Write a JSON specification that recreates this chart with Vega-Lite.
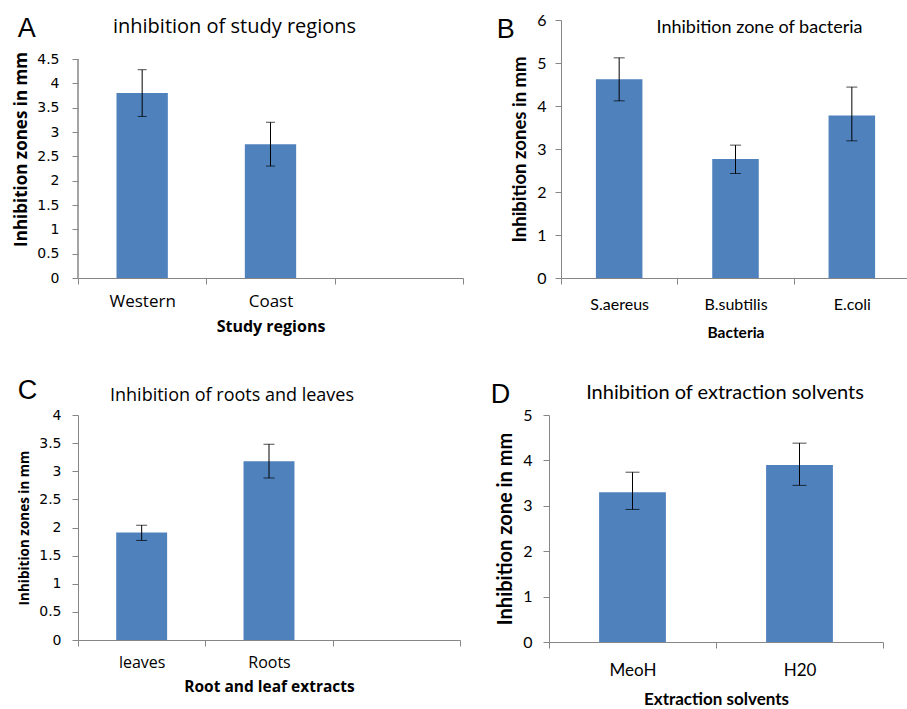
{
  "$schema": "https://vega.github.io/schema/vega-lite/v6.json",
  "padding": {"left": 12, "top": 12, "right": 0, "bottom": 0},
  "config": {
    "view": {"stroke": null},
    "axis": {"grid": false, "domainColor": "#868686", "tickColor": "#868686", "labelColor": "#000", "titleColor": "#000", "tickSize": 6, "labelOverlap": false},
    "title": {"color": "#000"}
  },
  "spacing": 36,
  "vconcat": [
    {
      "spacing": 32,
      "hconcat": [
        {
          "title": {"text": "A", "anchor": "start", "font": "Liberation Sans", "fontSize": 27, "fontWeight": "normal", "offset": -26, "dx": 5},
          "vconcat": [
            {
              "width": 385, "height": 258,
              "title": {"text": "inhibition of study regions", "font": "Open Sans", "fontSize": 20, "fontWeight": "normal", "offset": -17, "dx": -36},
              "data": {"values": [
                {"cat": "Western", "mean": 3.8, "lo": 3.32, "hi": 4.28},
                {"cat": "Coast", "mean": 2.75, "lo": 2.3, "hi": 3.2}
              ]},
              "encoding": {
                "x": {"field": "cat", "type": "nominal", "title": "Study regions",
                  "scale": {"domain": ["Western", "Coast", ""], "paddingInner": 0, "paddingOuter": 0},
                  "axis": {"labelAngle": 0, "tickBand": "extent", "labelFont": "Open Sans", "labelFontSize": 17, "labelPadding": 9, "titleFont": "Open Sans", "titleFontSize": 16, "titleFontWeight": "bold", "titlePadding": 9}}
              },
              "layer": [
                {"mark": {"type": "bar", "width": {"band": 0.4}, "color": "#4f81bd"},
                 "encoding": {"y": {"field": "mean", "type": "quantitative", "title": "Inhibition zones in mm",
                   "scale": {"domain": [0, 5.3014], "nice": false},
                   "axis": {"values": [0, 0.5, 1, 1.5, 2, 2.5, 3, 3.5, 4, 4.5], "format": "~g", "domain": false, "labelOverlap": false, "labelFont": "DejaVu Sans", "labelFontSize": 14, "labelPadding": 13, "titleFont": "Open Sans", "titleFontSize": 17, "titleFontWeight": "bold", "titlePadding": 6}}}},
                {"mark": {"type": "rule", "color": "#868686", "strokeWidth": 1},
                 "encoding": {"x": {"datum": "Western", "type": "nominal", "bandPosition": 0, "title": "Study regions"},
                   "y": {"datum": 0, "type": "quantitative", "title": "Inhibition zones in mm",
                   "axis": {"values": [0, 0.5, 1, 1.5, 2, 2.5, 3, 3.5, 4, 4.5], "format": "~g", "domain": false, "labelOverlap": false, "labelFont": "DejaVu Sans", "labelFontSize": 14, "labelPadding": 13, "titleFont": "Open Sans", "titleFontSize": 17, "titleFontWeight": "bold", "titlePadding": 6}},
                   "y2": {"datum": 4.5}}},
                {"mark": {"type": "rule", "color": "#000", "strokeWidth": 1},
                 "encoding": {"y": {"field": "lo", "type": "quantitative", "title": "Inhibition zones in mm",
                   "axis": {"values": [0, 0.5, 1, 1.5, 2, 2.5, 3, 3.5, 4, 4.5], "format": "~g", "domain": false, "labelOverlap": false, "labelFont": "DejaVu Sans", "labelFontSize": 14, "labelPadding": 13, "titleFont": "Open Sans", "titleFontSize": 17, "titleFontWeight": "bold", "titlePadding": 6}}, "y2": {"field": "hi"}}},
                {"mark": {"type": "tick", "color": "#000", "size": 9, "thickness": 1},
                 "encoding": {"y": {"field": "lo", "type": "quantitative", "title": "Inhibition zones in mm",
                   "axis": {"values": [0, 0.5, 1, 1.5, 2, 2.5, 3, 3.5, 4, 4.5], "format": "~g", "domain": false, "labelOverlap": false, "labelFont": "DejaVu Sans", "labelFontSize": 14, "labelPadding": 13, "titleFont": "Open Sans", "titleFontSize": 17, "titleFontWeight": "bold", "titlePadding": 6}}}},
                {"mark": {"type": "tick", "color": "#000", "size": 9, "thickness": 1},
                 "encoding": {"y": {"field": "hi", "type": "quantitative", "title": "Inhibition zones in mm",
                   "axis": {"values": [0, 0.5, 1, 1.5, 2, 2.5, 3, 3.5, 4, 4.5], "format": "~g", "domain": false, "labelOverlap": false, "labelFont": "DejaVu Sans", "labelFontSize": 14, "labelPadding": 13, "titleFont": "Open Sans", "titleFontSize": 17, "titleFontWeight": "bold", "titlePadding": 6}}}}
              ]
            }
          ]
        },
        {
          "title": {"text": "B", "anchor": "start", "font": "Liberation Sans", "fontSize": 27, "fontWeight": "normal", "offset": -32, "dx": -14},
          "vconcat": [
            {
              "width": 349, "height": 258,
              "title": {"text": "Inhibition zone of bacteria", "font": "Lato", "fontSize": 18, "fontWeight": "normal", "offset": -25, "dx": 24},
              "data": {"values": [
                {"cat": "S.aereus", "mean": 4.62, "lo": 4.12, "hi": 5.12},
                {"cat": "B.subtilis", "mean": 2.77, "lo": 2.43, "hi": 3.09},
                {"cat": "E.coli", "mean": 3.78, "lo": 3.19, "hi": 4.44}
              ]},
              "encoding": {
                "x": {"field": "cat", "type": "nominal", "title": "Bacteria",
                  "scale": {"domain": ["S.aereus", "B.subtilis", "E.coli"], "paddingInner": 0, "paddingOuter": 0},
                  "axis": {"labelAngle": 0, "tickBand": "extent", "labelFont": "Lato", "labelFontSize": 16, "labelPadding": 12, "titleFont": "Lato", "titleFontSize": 15.5, "titleFontWeight": "bold", "titlePadding": 13}}
              },
              "layer": [
                {"mark": {"type": "bar", "width": {"band": 0.4}, "color": "#4f81bd"},
                 "encoding": {"y": {"field": "mean", "type": "quantitative", "title": "Inhibition zones in mm",
                   "scale": {"domain": [0, 6], "nice": false},
                   "axis": {"values": [0, 1, 2, 3, 4, 5, 6], "format": "~g", "labelOverlap": false, "labelFont": "Lato", "labelFontSize": 16, "labelPadding": 9, "titleFont": "Lato", "titleFontSize": 18.5, "titleFontWeight": "bold", "titlePadding": 7}}}},
                {"mark": {"type": "rule", "color": "#000", "strokeWidth": 1},
                 "encoding": {"y": {"field": "lo", "type": "quantitative", "title": "Inhibition zones in mm",
                   "axis": {"values": [0, 1, 2, 3, 4, 5, 6], "format": "~g", "labelOverlap": false, "labelFont": "Lato", "labelFontSize": 16, "labelPadding": 9, "titleFont": "Lato", "titleFontSize": 18.5, "titleFontWeight": "bold", "titlePadding": 7}}, "y2": {"field": "hi"}}},
                {"mark": {"type": "tick", "color": "#000", "size": 11, "thickness": 1},
                 "encoding": {"y": {"field": "lo", "type": "quantitative", "title": "Inhibition zones in mm",
                   "axis": {"values": [0, 1, 2, 3, 4, 5, 6], "format": "~g", "labelOverlap": false, "labelFont": "Lato", "labelFontSize": 16, "labelPadding": 9, "titleFont": "Lato", "titleFontSize": 18.5, "titleFontWeight": "bold", "titlePadding": 7}}}},
                {"mark": {"type": "tick", "color": "#000", "size": 11, "thickness": 1},
                 "encoding": {"y": {"field": "hi", "type": "quantitative", "title": "Inhibition zones in mm",
                   "axis": {"values": [0, 1, 2, 3, 4, 5, 6], "format": "~g", "labelOverlap": false, "labelFont": "Lato", "labelFontSize": 16, "labelPadding": 9, "titleFont": "Lato", "titleFontSize": 18.5, "titleFontWeight": "bold", "titlePadding": 7}}}}
              ]
            }
          ]
        }
      ]
    },
    {
      "spacing": 29,
      "hconcat": [
        {
          "title": {"text": "C", "anchor": "start", "font": "Liberation Sans", "fontSize": 27, "fontWeight": "normal", "offset": -18},
          "vconcat": [
            {
              "width": 382, "height": 225,
              "title": {"text": "Inhibition of roots and leaves", "font": "Open Sans", "fontSize": 18, "fontWeight": "normal", "offset": 3, "dx": -37},
              "data": {"values": [
                {"cat": "leaves", "mean": 1.91, "lo": 1.77, "hi": 2.04},
                {"cat": "Roots", "mean": 3.18, "lo": 2.88, "hi": 3.48}
              ]},
              "encoding": {
                "x": {"field": "cat", "type": "nominal", "title": "Root and leaf extracts",
                  "scale": {"domain": ["leaves", "Roots", ""], "paddingInner": 0, "paddingOuter": 0},
                  "axis": {"labelAngle": 0, "tickBand": "extent", "labelFont": "Open Sans", "labelFontSize": 16, "labelPadding": 8, "titleFont": "Open Sans", "titleFontSize": 15.5, "titleFontWeight": "bold", "titlePadding": 9}}
              },
              "layer": [
                {"mark": {"type": "bar", "width": {"band": 0.4}, "color": "#4f81bd"},
                 "encoding": {"y": {"field": "mean", "type": "quantitative", "title": "Inhibition zones in mm",
                   "scale": {"domain": [0, 4], "nice": false},
                   "axis": {"values": [0, 0.5, 1, 1.5, 2, 2.5, 3, 3.5, 4], "format": "~g", "labelOverlap": false, "labelFont": "DejaVu Sans", "labelFontSize": 14, "labelPadding": 11, "titleFont": "Open Sans", "titleFontSize": 13.5, "titleFontWeight": "bold", "titlePadding": 7}}}},
                {"mark": {"type": "rule", "color": "#000", "strokeWidth": 1},
                 "encoding": {"y": {"field": "lo", "type": "quantitative", "title": "Inhibition zones in mm",
                   "axis": {"values": [0, 0.5, 1, 1.5, 2, 2.5, 3, 3.5, 4], "format": "~g", "labelOverlap": false, "labelFont": "DejaVu Sans", "labelFontSize": 14, "labelPadding": 11, "titleFont": "Open Sans", "titleFontSize": 13.5, "titleFontWeight": "bold", "titlePadding": 7}}, "y2": {"field": "hi"}}},
                {"mark": {"type": "tick", "color": "#000", "size": 11, "thickness": 1},
                 "encoding": {"y": {"field": "lo", "type": "quantitative", "title": "Inhibition zones in mm",
                   "axis": {"values": [0, 0.5, 1, 1.5, 2, 2.5, 3, 3.5, 4], "format": "~g", "labelOverlap": false, "labelFont": "DejaVu Sans", "labelFontSize": 14, "labelPadding": 11, "titleFont": "Open Sans", "titleFontSize": 13.5, "titleFontWeight": "bold", "titlePadding": 7}}}},
                {"mark": {"type": "tick", "color": "#000", "size": 11, "thickness": 1},
                 "encoding": {"y": {"field": "hi", "type": "quantitative", "title": "Inhibition zones in mm",
                   "axis": {"values": [0, 0.5, 1, 1.5, 2, 2.5, 3, 3.5, 4], "format": "~g", "labelOverlap": false, "labelFont": "DejaVu Sans", "labelFontSize": 14, "labelPadding": 11, "titleFont": "Open Sans", "titleFontSize": 13.5, "titleFontWeight": "bold", "titlePadding": 7}}}}
              ]
            }
          ]
        },
        {
          "title": {"text": "D", "anchor": "start", "font": "Liberation Sans", "fontSize": 27, "fontWeight": "normal", "offset": -26, "dx": -5},
          "vconcat": [
            {
              "width": 334, "height": 227,
              "title": {"text": "Inhibition of extraction solvents", "font": "Lato", "fontSize": 20, "fontWeight": "normal", "offset": 4, "dx": 9},
              "data": {"values": [
                {"cat": "MeoH", "mean": 3.3, "lo": 2.92, "hi": 3.74},
                {"cat": "H20", "mean": 3.9, "lo": 3.45, "hi": 4.38}
              ]},
              "encoding": {
                "x": {"field": "cat", "type": "nominal", "title": "Extraction solvents",
                  "scale": {"domain": ["MeoH", "H20"], "paddingInner": 0, "paddingOuter": 0},
                  "axis": {"labelAngle": 0, "tickBand": "extent", "labelFont": "Lato", "labelFontSize": 17, "labelPadding": 14, "titleFont": "Lato", "titleFontSize": 17, "titleFontWeight": "bold", "titlePadding": 13}}
              },
              "layer": [
                {"mark": {"type": "bar", "width": {"band": 0.4}, "color": "#4f81bd"},
                 "encoding": {"y": {"field": "mean", "type": "quantitative", "title": "Inhibition zone in mm",
                   "scale": {"domain": [0, 5], "nice": false},
                   "axis": {"values": [0, 1, 2, 3, 4, 5], "format": "~g", "labelOverlap": false, "labelFont": "Lato", "labelFontSize": 16, "labelPadding": 11, "titleFont": "Lato", "titleFontSize": 20, "titleFontWeight": "bold", "titlePadding": 7}}}},
                {"mark": {"type": "rule", "color": "#000", "strokeWidth": 1},
                 "encoding": {"y": {"field": "lo", "type": "quantitative", "title": "Inhibition zone in mm",
                   "axis": {"values": [0, 1, 2, 3, 4, 5], "format": "~g", "labelOverlap": false, "labelFont": "Lato", "labelFontSize": 16, "labelPadding": 11, "titleFont": "Lato", "titleFontSize": 20, "titleFontWeight": "bold", "titlePadding": 7}}, "y2": {"field": "hi"}}},
                {"mark": {"type": "tick", "color": "#000", "size": 14, "thickness": 1},
                 "encoding": {"y": {"field": "lo", "type": "quantitative", "title": "Inhibition zone in mm",
                   "axis": {"values": [0, 1, 2, 3, 4, 5], "format": "~g", "labelOverlap": false, "labelFont": "Lato", "labelFontSize": 16, "labelPadding": 11, "titleFont": "Lato", "titleFontSize": 20, "titleFontWeight": "bold", "titlePadding": 7}}}},
                {"mark": {"type": "tick", "color": "#000", "size": 14, "thickness": 1},
                 "encoding": {"y": {"field": "hi", "type": "quantitative", "title": "Inhibition zone in mm",
                   "axis": {"values": [0, 1, 2, 3, 4, 5], "format": "~g", "labelOverlap": false, "labelFont": "Lato", "labelFontSize": 16, "labelPadding": 11, "titleFont": "Lato", "titleFontSize": 20, "titleFontWeight": "bold", "titlePadding": 7}}}}
              ]
            }
          ]
        }
      ]
    }
  ]
}
